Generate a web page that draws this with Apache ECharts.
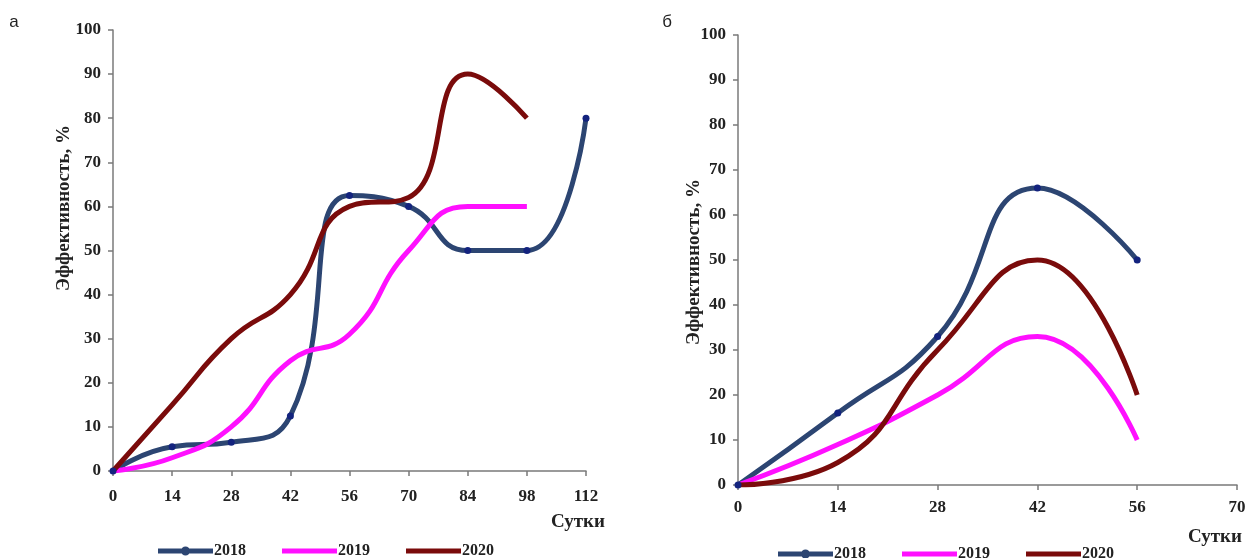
<!DOCTYPE html>
<html>
<head>
    <meta charset="utf-8">
    <title>Эффективность</title>
    <script src="https://cdn.jsdelivr.net/npm/echarts@6/dist/echarts.min.js"></script>
</head>
<body style="margin:0">
    <div id="main" style="width:1256px;height:558px;"></div>
    <script type="text/javascript">
        // сутки (ось X) и значения по годам
        const daysA = [0, 14, 28, 42, 56, 70, 84, 98, 112]
        const a2018 = [0, 5.5, 6.5, 12.5, 62.5, 60, 50, 50, 80]
        const a2019 = [0, 3, 10, 25, 31, 50, 60, 60]
        const a2020 = [0, 15, 30, 40, 60, 62, 90, 80]

        const daysB = [0, 14, 28, 42, 56]
        const b2018 = [0, 16, 33, 66, 50]
        const b2019 = [0, 9, 20, 33, 10]
        const b2020 = [0, 5, 30, 50, 20]

        const years = ['2018', '2019', '2020']
        const colors = ['#2c4572', '#ff10ff', '#7a0b0b']
        const dotColor = '#13237e'

        const pairs = (xs, ys) => ys.map((v, i) => [xs[i], v])

        var myChart = echarts.init(document.getElementById('main'));

        const font = 'Liberation Serif'
        const axisLabel = { color: '#222', fontFamily: font, fontWeight: 'bold', fontSize: 17 }
        const axisLine = { show: true, lineStyle: { color: '#7a7a7a', width: 1.5 } }
        const axisTick = { show: true, length: 5, lineStyle: { color: '#7a7a7a', width: 1.5 } }

        const xAxis = (grid, max, margin) => ({
            type: 'value', gridIndex: grid, min: 0, max: max, interval: 14,
            axisLine: axisLine, axisTick: axisTick, splitLine: { show: false },
            axisLabel: Object.assign({ margin: margin }, axisLabel)
        })
        const yAxis = (grid) => ({
            type: 'value', gridIndex: grid, min: 0, max: 100, interval: 10,
            axisLine: axisLine, axisTick: axisTick, splitLine: { show: false },
            axisLabel: Object.assign({ margin: 12 }, axisLabel)
        })

        const line = (name, grid, data, idx) => ({
            name: name, type: 'line', xAxisIndex: grid, yAxisIndex: grid,
            data: data, smooth: 0.5,
            symbol: idx === 0 ? 'circle' : 'none', symbolSize: 7,
            itemStyle: { color: idx === 0 ? dotColor : colors[idx] },
            lineStyle: { color: colors[idx], width: 5 }
        })

        // значки легенды: толстая линия, у 2018 — точка посередине
        const barIcon = 'path://M0,2h55v5H0z'
        const dotIcon = 'path://M0,2h55v5H0z M23,4.5a4.5,4.5 0 1,1 9,0a4.5,4.5 0 1,1 -9,0z'
        const legend = (left, top) => ({
            left: left, top: top, itemGap: 36, itemWidth: 55, itemHeight: 9,
            data: [
                { name: '2018', icon: dotIcon, itemStyle: { color: colors[0] } },
                { name: '2019', icon: barIcon, itemStyle: { color: colors[1] } },
                { name: '2020', icon: barIcon, itemStyle: { color: colors[2] } }
            ],
            textStyle: { color: '#222', fontFamily: font, fontWeight: 'bold', fontSize: 16, padding: [0, 0, 0, -4] }
        })

        const text = (t, x, y, f, rot) => ({
            type: 'text', x: x, y: y, rotation: rot || 0,
            style: { text: t, font: f, fill: '#222', align: 'center', verticalAlign: 'middle' }
        })
        const titleFont = 'bold 19px Liberation Serif'

        var option = {
            backgroundColor: '#fff',
            animation: false,
            grid: [
                { left: 113, right: 670, top: 30, bottom: 87 },
                { left: 738, right: 19, top: 35, bottom: 73 }
            ],
            xAxis: [xAxis(0, 112, 17), xAxis(1, 70, 14)],
            yAxis: [yAxis(0), yAxis(1)],
            legend: [legend(153, 538), legend(773, 541)],
            graphic: [
                text('а', 14, 22, '17px Liberation Sans'),
                text('б', 667, 22, '17px Liberation Sans'),
                text('Эффективность, %', 64, 208, titleFont, Math.PI / 2),
                text('Эффективность, %', 694, 262, titleFont, Math.PI / 2),
                text('Сутки', 578, 522, 'bold 19px Liberation Serif'),
                text('Сутки', 1215, 537, 'bold 19px Liberation Serif')
            ],
            series: [
                line('2018', 0, pairs(daysA, a2018), 0),
                line('2019', 0, pairs(daysA, a2019), 1),
                line('2020', 0, pairs(daysA, a2020), 2),
                line('2018', 1, pairs(daysB, b2018), 0),
                line('2019', 1, pairs(daysB, b2019), 1),
                line('2020', 1, pairs(daysB, b2020), 2)
            ]
        };

        myChart.setOption(option);
    </script>
</body>
</html>
